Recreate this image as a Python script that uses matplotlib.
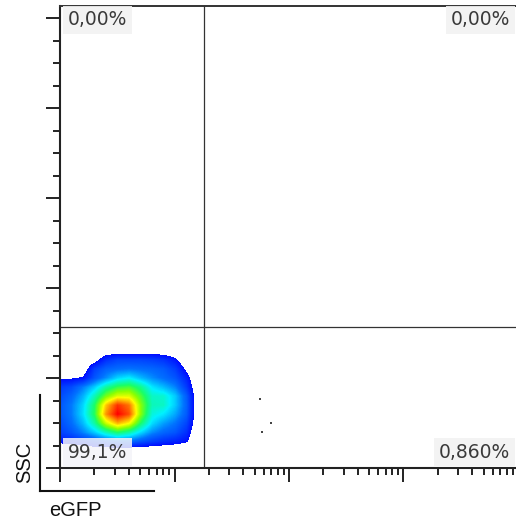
import numpy as np
import matplotlib
matplotlib.use("Agg")
import matplotlib.pyplot as plt
from matplotlib.colors import LinearSegmentedColormap, Normalize
from matplotlib.ticker import MultipleLocator, LogLocator, NullFormatter
from matplotlib.lines import Line2D

# ---------------- data ----------------
# density grid: columns at log10(eGFP), rows at SSC (bottom -> top)
grid_log_egfp = [1.0, 1.1, 1.2, 1.3, 1.4, 1.5, 1.6, 1.7, 1.8, 1.9, 2.0, 2.1, 2.2]
grid_ssc = [40, 60, 80, 100, 120, 140, 160, 180, 200, 220, 240, 260, 280]
density = [
    [0.02, 0.02, 0.02, 0.02, 0.02, 0.02, 0.02, 0.02, 0.02, 0.02, 0.02, 0.02, 0.00],
    [0.12, 0.14, 0.17, 0.21, 0.25, 0.28, 0.27, 0.23, 0.19, 0.16, 0.14, 0.11, 0.00],
    [0.19, 0.23, 0.30, 0.38, 0.48, 0.55, 0.50, 0.40, 0.31, 0.26, 0.23, 0.16, 0.00],
    [0.21, 0.27, 0.36, 0.50, 0.70, 0.82, 0.75, 0.55, 0.40, 0.33, 0.28, 0.20, 0.02],
    [0.23, 0.29, 0.40, 0.56, 0.85, 1.00, 0.92, 0.65, 0.45, 0.41, 0.34, 0.24, 0.02],
    [0.23, 0.29, 0.39, 0.55, 0.80, 0.95, 0.88, 0.65, 0.48, 0.47, 0.38, 0.25, 0.02],
    [0.21, 0.26, 0.35, 0.48, 0.63, 0.72, 0.72, 0.60, 0.47, 0.46, 0.38, 0.24, 0.02],
    [0.18, 0.21, 0.29, 0.38, 0.50, 0.57, 0.59, 0.52, 0.41, 0.36, 0.30, 0.18, 0.01],
    [0.09, 0.09, 0.11, 0.23, 0.31, 0.39, 0.42, 0.36, 0.31, 0.27, 0.23, 0.14, 0.00],
    [0.03, 0.03, 0.04, 0.19, 0.25, 0.27, 0.28, 0.27, 0.26, 0.24, 0.19, 0.08, 0.00],
    [0.00, 0.00, 0.00, 0.06, 0.16, 0.20, 0.20, 0.20, 0.19, 0.17, 0.12, 0.02, 0.00],
    [0.00, 0.00, 0.00, 0.01, 0.04, 0.05, 0.05, 0.05, 0.05, 0.04, 0.02, 0.00, 0.00],
    [0.00, 0.00, 0.00, 0.00, 0.00, 0.00, 0.00, 0.00, 0.00, 0.00, 0.00, 0.00, 0.00],
]
# isolated events outside the main population
event_egfp = [558, 697, 581]
event_ssc = [153, 100, 80]

# quadrant gates
gate_egfp = 181
gate_ssc = 313

# quadrant percentages
quad_top_left = "0,00%"
quad_top_right = "0,00%"
quad_bottom_left = "99,1%"
quad_bottom_right = "0,860%"

x_label = "eGFP"
y_label = "SSC"

# ---------------- figure ----------------
W, H = 516, 525
fig = plt.figure(figsize=(W / 100, H / 100), dpi=100)

left_px, right_px, top_px, bottom_px = 60, 516, 6, 468
rect = [left_px / W, 1 - bottom_px / H, (right_px - left_px) / W, (bottom_px - top_px) / H]
x_max_log = 1 + (right_px - left_px) / 114.5
y_max = (bottom_px - top_px) / 0.45

# density layer (axes in log10 units underneath main axes)
ax_d = fig.add_axes(rect, zorder=0)
ax_d.set_xlim(1, x_max_log)
ax_d.set_ylim(0, y_max)
ax_d.axis("off")

colors = [
    (0.000, (0.0, 0.05, 1.0)),
    (0.200, (0.0, 0.45, 1.0)),
    (0.356, (0.0, 0.95, 1.0)),
    (0.500, (0.1, 1.0, 0.4)),
    (0.611, (0.55, 1.0, 0.0)),
    (0.722, (1.0, 1.0, 0.0)),
    (0.856, (1.0, 0.5, 0.0)),
    (1.000, (1.0, 0.0, 0.0)),
]
cmap = LinearSegmentedColormap.from_list("flow", colors)
cmap.set_under((1, 1, 1, 0))
dx = (grid_log_egfp[1] - grid_log_egfp[0]) / 2
dy = (grid_ssc[1] - grid_ssc[0]) / 2
ax_d.imshow(np.array(density), origin="lower", aspect="auto",
            extent=(grid_log_egfp[0] - dx, grid_log_egfp[-1] + dx,
                    grid_ssc[0] - dy, grid_ssc[-1] + dy),
            cmap=cmap, norm=Normalize(vmin=0.1, vmax=1.0),
            interpolation="bilinear", interpolation_stage="data")

# main axes
ax = fig.add_axes(rect, zorder=1)
ax.patch.set_alpha(0)
ax.set_xscale("log")
ax.set_xlim(10, 10 ** x_max_log)
ax.set_ylim(0, y_max)

ax.scatter(event_egfp, event_ssc, s=3, marker="s", color="#444444", linewidths=0)

ax.axvline(gate_egfp, color="#333333", lw=0.9)
ax.axhline(gate_ssc, color="#333333", lw=0.9)

ax.xaxis.set_major_locator(LogLocator(base=10, numticks=10))
ax.xaxis.set_minor_locator(LogLocator(base=10, subs=np.arange(2, 10), numticks=20))
ax.xaxis.set_major_formatter(NullFormatter())
ax.xaxis.set_minor_formatter(NullFormatter())
ax.yaxis.set_major_locator(MultipleLocator(200))
ax.yaxis.set_minor_locator(MultipleLocator(50))
ax.yaxis.set_major_formatter(NullFormatter())

ax.tick_params(which="major", direction="out", length=10, width=1.4, color="#222222")
ax.tick_params(which="minor", direction="out", length=5, width=1.4, color="#222222")

for s in ["left", "bottom"]:
    ax.spines[s].set_linewidth(1.5)
    ax.spines[s].set_color("#222222")
ax.spines["top"].set_linewidth(1.4)
ax.spines["top"].set_color("#333333")
ax.spines["right"].set_visible(False)

txt_kw = dict(transform=ax.transAxes, fontsize=13.5, color="#3a3a3a",
              family="DejaVu Sans", va="center", zorder=5)
box_gray = dict(boxstyle="square,pad=0.25", facecolor="#f2f2f2", edgecolor="none", alpha=0.9)
box_white = dict(boxstyle="square,pad=0.25", facecolor="#f4f4f8", edgecolor="none", alpha=0.85)
ax.text(0.0175, 0.970, quad_top_left, ha="left", bbox=box_gray, **txt_kw)
ax.text(0.987, 0.970, quad_top_right, ha="right", bbox=box_gray, **txt_kw)
ax.text(0.0175, 0.0346, quad_bottom_left, ha="left", bbox=box_white, **txt_kw)
ax.text(0.987, 0.0346, quad_bottom_right, ha="right", bbox=box_gray, **txt_kw)

# axis indicator (L-shape) with labels
fig.add_artist(Line2D([40 / W, 40 / W], [1 - 395 / H, 1 - 491 / H], color="#111111", lw=1.5))
fig.add_artist(Line2D([40 / W, 154 / W], [1 - 491 / H, 1 - 491 / H], color="#111111", lw=1.5))
fig.text(25 / W, 1 - 462 / H, y_label, rotation=90, ha="center", va="center",
         fontsize=14.5, family="Liberation Sans", color="#111111")
fig.text(75 / W, 1 - 511 / H, x_label, ha="center", va="center",
         fontsize=14.5, family="Liberation Sans", color="#111111")

fig.savefig("out.png", dpi=100)
